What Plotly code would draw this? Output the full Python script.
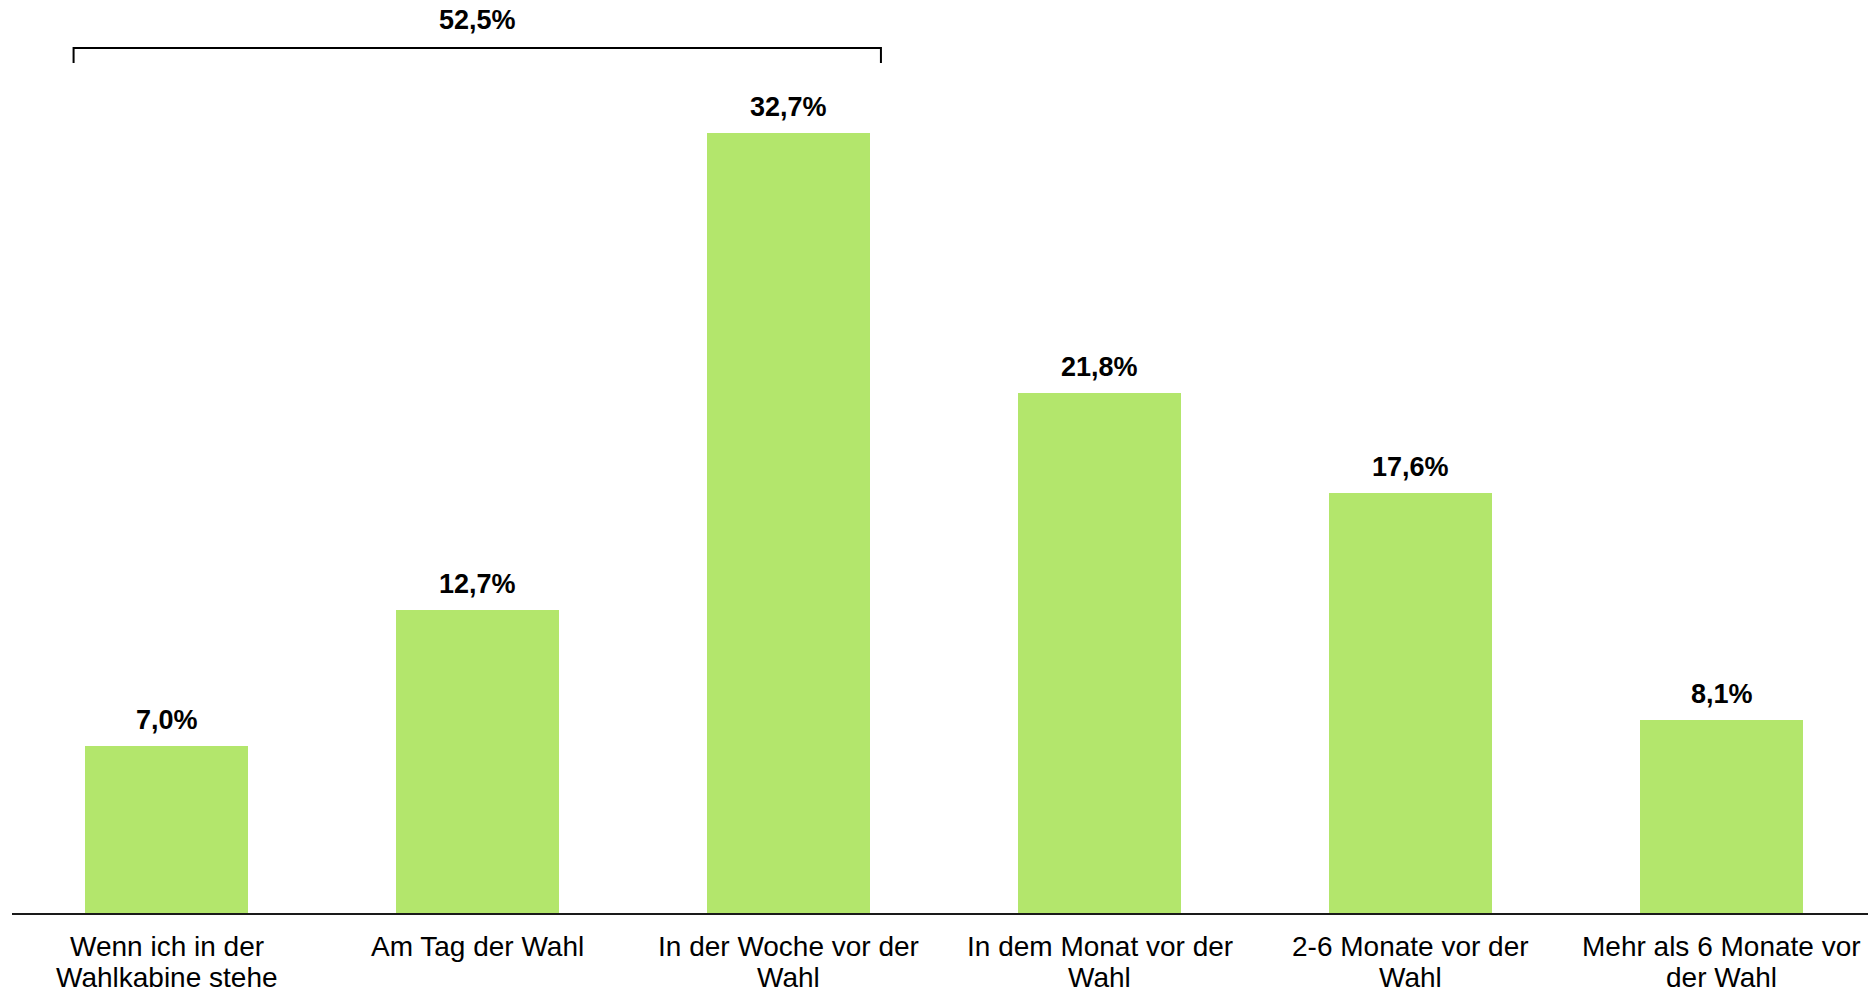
import plotly.graph_objects as go

categories = [
    "Wenn ich in der<br>Wahlkabine stehe",
    "Am Tag der Wahl",
    "In der Woche vor der<br>Wahl",
    "In dem Monat vor der<br>Wahl",
    "2-6 Monate vor der<br>Wahl",
    "Mehr als 6 Monate vor<br>der Wahl",
]
values = [7.0, 12.7, 32.7, 21.8, 17.6, 8.1]
bracket_total = 52.5
bracket_span = [0, 2]  # first and last category index covered by the bracket

W, H = 1868, 989
ml, mr, mt, mb = 12, 0, 0, 76
px_per_cat = 311.0
px_per_unit = 23.86
plot_w = W - ml - mr
plot_h = H - mt - mb

x0 = -0.498
x_range = [x0, x0 + plot_w / px_per_cat]
y_range = [0, plot_h / px_per_unit]

def fmt(v):
    return f"{v:.1f}%".replace(".", ",")

xs = list(range(len(categories)))

fig = go.Figure()
fig.add_trace(go.Bar(
    x=xs, y=values, width=0.524,
    marker=dict(color="#B3E66C", line=dict(width=0)),
    hoverinfo="skip",
))

font_family = "Liberation Sans, Arial, sans-serif"

for x, v in zip(xs, values):
    fig.add_annotation(
        x=x, y=v, xref="x", yref="y", text=f"<b>{fmt(v)}</b>",
        showarrow=False, yanchor="bottom", yshift=9,
        font=dict(family=font_family, size=27, color="#000000"),
    )

# category labels, one annotation per line for tight line spacing
line_offsets = [-33, -64]
for x, cat in zip(xs, categories):
    for k, line in enumerate(cat.split("<br>")):
        fig.add_annotation(
            x=x, y=0, xref="x", yref="paper", text=line,
            showarrow=False, yanchor="middle", yshift=line_offsets[k],
            font=dict(family=font_family, size=28, color="#000000"),
        )

# bracket
bx0 = bracket_span[0] - 0.30
bx1 = bracket_span[1] + 0.296
by_top = (plot_h - 48) / px_per_unit
by_bot = (plot_h - 63) / px_per_unit
fig.add_shape(
    type="path",
    path=f"M {bx0} {by_bot} L {bx0} {by_top} L {bx1} {by_top} L {bx1} {by_bot}",
    xref="x", yref="y", line=dict(color="#000000", width=2),
)
fig.add_annotation(
    x=(bx0 + bx1) / 2, y=(plot_h - 20) / px_per_unit, xref="x", yref="y",
    text=f"<b>{fmt(bracket_total)}</b>", showarrow=False, yanchor="middle",
    font=dict(family=font_family, size=27, color="#000000"),
)

fig.update_xaxes(
    range=x_range, tickmode="array", tickvals=xs, showticklabels=False,
    showline=True, linecolor="#1a1a1a", linewidth=2, ticks="",
    showgrid=False, zeroline=False,
)
fig.update_yaxes(range=y_range, visible=False, showgrid=False, zeroline=False)

fig.update_layout(
    width=W, height=H,
    margin=dict(l=ml, r=mr, t=mt, b=mb, pad=0),
    plot_bgcolor="white", paper_bgcolor="white",
    showlegend=False, bargap=0,
)

fig.write_html(
    "out.html",
    config={"displayModeBar": False},
    post_script="document.body.style.margin='0';document.body.style.overflow='hidden';",
)
